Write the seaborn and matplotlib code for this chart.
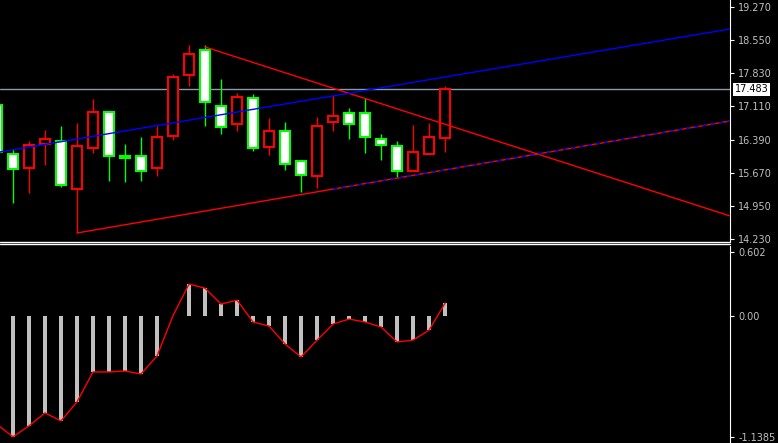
import numpy as np
import matplotlib
matplotlib.use("Agg")
import matplotlib.pyplot as plt
import seaborn as sns

# OHLC (index 0 is the partly hidden candle on the left edge)
opens  = [17.141, 16.076, 15.772, 16.294, 16.359, 15.316, 16.207, 16.989, 16.033, 16.033,
          15.772, 16.467, 17.793, 18.336, 17.119, 16.728, 17.293, 16.228, 16.576, 15.924,
          15.598, 16.772, 16.967, 16.967, 16.402, 16.250, 15.707, 16.076, 16.424]
highs  = [17.250, 16.185, 16.359, 16.598, 16.685, 16.750, 17.271, 17.011, 16.294, 16.446,
          16.685, 17.814, 18.444, 18.444, 17.706, 17.402, 17.380, 16.859, 16.772, 15.946,
          16.880, 17.358, 17.076, 17.293, 16.511, 16.359, 16.706, 16.750, 17.554]
lows   = [16.055, 15.012, 15.229, 15.837, 15.359, 14.360, 16.098, 15.490, 15.468, 15.490,
          15.598, 16.381, 17.554, 16.685, 16.511, 16.576, 16.142, 16.055, 15.729, 15.251,
          15.338, 16.576, 16.402, 16.098, 15.946, 15.577, 15.707, 16.076, 16.120]
closes = [16.120, 15.751, 16.272, 16.402, 15.403, 16.250, 16.989, 16.033, 15.990, 15.707,
          16.446, 17.749, 18.249, 17.206, 16.663, 17.315, 16.207, 16.576, 15.859, 15.620,
          16.685, 16.902, 16.728, 16.446, 16.272, 15.707, 16.120, 16.446, 17.483]
macd = [-1.02, -1.137, -1.034, -0.912, -0.987, -0.808, -0.526, -0.526, -0.517, -0.545,
        -0.376, 0.005, 0.301, 0.263, 0.113, 0.150, -0.056, -0.094, -0.263, -0.385,
        -0.226, -0.075, -0.028, -0.056, -0.103, -0.244, -0.226, -0.132, 0.122]

# trend lines as (index, price) end points
upper_blue = ([0.19, 45.8], [16.120, 18.792])
lower_blue = ([21.0, 45.8], [15.314, 16.793])
lower_red = ([5, 45.8], [14.360, 16.793])
down_red = ([13, 45.8], [18.401, 14.730])
last_price = 17.483

price_ticks = [19.270, 18.550, 17.830, 17.110, 16.390, 15.670, 14.950, 14.230]

sns.set_style("dark")
W, H = 778, 443
fig = plt.figure(figsize=(W / 100, H / 100), dpi=100, facecolor="black")
ax = fig.add_axes([0, (H - 241) / H, 730 / W, 241 / H], facecolor="black")
ax2 = fig.add_axes([0, 0, 730 / W, 197 / H], facecolor="black")

x = np.arange(len(opens))
up = np.array(closes) >= np.array(opens)
for i in x:
    col = "#ff0000" if up[i] else "#00ff00"
    ax.vlines(i, lows[i], highs[i], color=col, lw=1, zorder=2)
    lo, hi = min(opens[i], closes[i]), max(opens[i], closes[i])
    ax.bar(i, max(hi - lo, 0.03), bottom=lo, width=0.62,
           color="black" if up[i] else "white", edgecolor=col, lw=1.5, zorder=3)

ax.axhline(last_price, color="#8a9aa8", lw=1, zorder=1)
ax.plot(*lower_red, color="#ff0000", lw=1, zorder=4)
ax.plot(*down_red, color="#ff0000", lw=1, zorder=4)
ax.plot(*upper_blue, color="#0000ff", lw=1, zorder=4)
ax.plot(*lower_blue, color="#0000ff", lw=1, ls=(0, (3, 3)), zorder=5)

ax.set_xlim(0.19, 45.8)
ax.set_ylim(14.186, 19.422)
ax.yaxis.tick_right()
ax.set_yticks(price_ticks)
ax.set_yticklabels([f"{t:.3f}" for t in price_ticks])
ax.set_xticks([])
ax.tick_params(axis="y", colors="white", labelcolor="#c0c0c0", labelsize=7,
               length=3, direction="out", pad=3)
ax.text(45.8 + 0.3, last_price, f"{last_price:.3f}", color="black", fontsize=7,
        va="center", ha="left", bbox=dict(fc="white", ec="none", pad=1),
        clip_on=False)

ax2.bar(x, macd, width=0.22, color="#c0c0c0", lw=0, zorder=2)
sns.lineplot(x=x, y=macd, color="#ff0000", lw=1, ax=ax2, zorder=3)
ax2.set_xlim(0.19, 45.8)
ax2.set_ylim(-1.195, 0.66)
ax2.yaxis.tick_right()
ax2.set_yticks([0.602, 0.0, -1.1385])
ax2.set_yticklabels(["0.602", "0.00", "-1.1385"])
ax2.set_xticks([])
ax2.tick_params(axis="y", colors="white", labelcolor="#c0c0c0", labelsize=7,
                length=3, direction="out", pad=3)

for a in (ax, ax2):
    a.grid(False)
    for s in a.spines.values():
        s.set_visible(False)
    a.spines["right"].set_visible(True)
    a.spines["right"].set_color("white")

for yy in (241.5, 244):
    fig.add_artist(plt.Line2D([0, 730 / W], [1 - yy / H] * 2, color="white", lw=1))

fig.savefig("out.png", dpi=100, facecolor="black")
